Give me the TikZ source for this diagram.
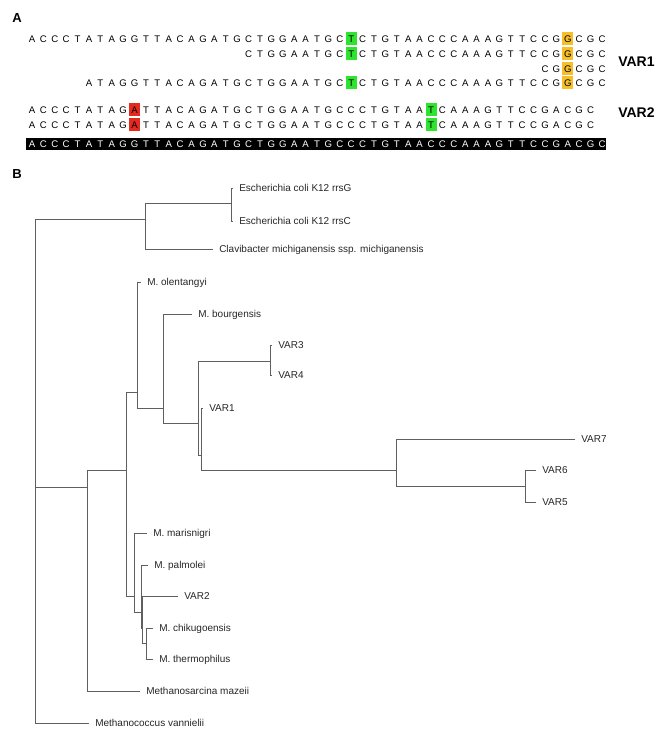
\documentclass[tikz,border=0pt]{standalone}
\usepackage{fontspec}
\setmainfont{Liberation Sans}
\usepackage{tikz}

\definecolor{hlgreen}{RGB}{46,228,46}
\definecolor{hlorange}{RGB}{246,190,40}
\definecolor{hlred}{RGB}{228,42,30}
\definecolor{treegray}{RGB}{95,95,95}

\begin{document}
\begin{tikzpicture}[x=0.75pt,y=-0.75pt,
	nuc/.style={inner sep=0pt,text height=5.1pt,text depth=0pt,font=\fontsize{7.2}{8}\selectfont},
	taxon/.style={anchor=west,inner xsep=4.5pt,inner ysep=0pt,text height=5.4pt,text depth=0pt,text=black!85,font=\fontsize{7.5}{9}\selectfont},
	branch/.style={draw=treegray,line width=0.6pt},
	varname/.style={anchor=west,inner sep=0pt,font=\bfseries\fontsize{10.5}{12}\selectfont},
	panel/.style={anchor=west,inner sep=0pt,font=\bfseries\fontsize{9.8}{12}\selectfont}]

	\useasboundingbox (0,0) rectangle (661,741);

	\node[panel] (pA) at (12,18) {A};
	\node[panel] (pB) at (12,174) {B};

	% highlighted bases
	\foreach \i/\y/\c in {28/39/hlgreen,28/54/hlgreen,28/83/hlgreen,47/39/hlorange,47/54/hlorange,47/69/hlorange,47/83/hlorange,9/110/hlred,9/125/hlred,35/110/hlgreen,35/125/hlgreen}
		\fill[\c] ({32+11.4*\i-5.5},{\y-6.5}) rectangle +(11,13);
	\fill[black] (26,138) rectangle (606,150);

	% VAR1 reads
	\foreach \n [count=\i from 0] in {A,C,C,C,T,A,T,A,G,G,T,T,A,C,A,G,A,T,G,C,T,G,G,A,A,T,G,C,T,C,T,G,T,A,A,C,C,C,A,A,A,G,T,T,C,C,G,G,C,G,C}
		\node[nuc] (s1-\i) at ({32+11.4*\i},39) {\n};
	\foreach \n [count=\i from 19] in {C,T,G,G,A,A,T,G,C,T,C,T,G,T,A,A,C,C,C,A,A,A,G,T,T,C,C,G,G,C,G,C}
		\node[nuc] (s2-\i) at ({32+11.4*\i},54) {\n};
	\foreach \n [count=\i from 45] in {C,G,G,C,G,C}
		\node[nuc] (s3-\i) at ({32+11.4*\i},69) {\n};
	\foreach \n [count=\i from 5] in {A,T,A,G,G,T,T,A,C,A,G,A,T,G,C,T,G,G,A,A,T,G,C,T,C,T,G,T,A,A,C,C,C,A,A,A,G,T,T,C,C,G,G,C,G,C}
		\node[nuc] (s4-\i) at ({32+11.4*\i},83) {\n};

	% VAR2 reads
	\foreach \y [count=\r from 5] in {110,125}
		\foreach \n [count=\i from 0] in {A,C,C,C,T,A,T,A,G,A,T,T,A,C,A,G,A,T,G,C,T,G,G,A,A,T,G,C,C,C,T,G,T,A,A,T,C,A,A,A,G,T,T,C,C,G,A,C,G,C}
			\node[nuc] (s\r-\i) at ({32+11.4*\i},\y) {\n};

	% reference
	\foreach \n [count=\i from 0] in {A,C,C,C,T,A,T,A,G,G,T,T,A,C,A,G,A,T,G,C,T,G,G,A,A,T,G,C,C,C,T,G,T,A,A,C,C,C,A,A,A,G,T,T,C,C,G,A,C,G,C}
		\node[nuc,text=white] (ref-\i) at ({32+11.4*\i},144) {\n};

	\node[varname] (v1) at (618,62) {VAR1};
	\node[varname] (v2) at (618,113) {VAR2};

	% tree
	\coordinate (root) at (35,487);
	\coordinate (u1) at (145,219);
	\coordinate (eco) at (231,203);
	\coordinate (m1) at (87,487);
	\coordinate (m2) at (126,470);
	\coordinate (m3) at (137,392);
	\coordinate (m5) at (163,408);
	\coordinate (m6) at (198,423);
	\coordinate (v34) at (270,361);
	\coordinate (m7) at (201,455);
	\coordinate (m8) at (396,470);
	\coordinate (v56) at (525,486);
	\coordinate (m4) at (134,596);
	\coordinate (m10) at (141,612);
	\coordinate (m11) at (142.5,628);
	\coordinate (m12) at (146,643);

	\node[taxon] (rrsG) at (233,188) {Escherichia coli K12 rrsG};
	\node[taxon] (rrsC) at (233,221) {Escherichia coli K12 rrsC};
	\node[taxon] (clav) at (213,249) {Clavibacter michiganensis ssp. michiganensis};
	\node[taxon] (olen) at (141,282) {M. olentangyi};
	\node[taxon] (bour) at (192,314) {M. bourgensis};
	\node[taxon] (var3) at (272,345) {VAR3};
	\node[taxon] (var4) at (272,375) {VAR4};
	\node[taxon] (var1) at (203,408) {VAR1};
	\node[taxon] (var7) at (575,439) {VAR7};
	\node[taxon] (var6) at (536,470) {VAR6};
	\node[taxon] (var5) at (536,502) {VAR5};
	\node[taxon] (mari) at (147,533) {M. marisnigri};
	\node[taxon] (palm) at (148,565) {M. palmolei};
	\node[taxon] (var2) at (178,596) {VAR2};
	\node[taxon] (chik) at (153,628) {M. chikugoensis};
	\node[taxon] (ther) at (153,659) {M. thermophilus};
	\node[taxon] (maze) at (140,691) {Methanosarcina mazeii};
	\node[taxon] (vann) at (89,723) {Methanococcus vannielii};

	\foreach \p/\c in {root/u1,root/m1,root/vann.west,u1/eco,u1/clav.west,eco/rrsG.west,eco/rrsC.west,
		m1/m2,m1/maze.west,m2/m3,m2/m4,m3/olen.west,m3/m5,m5/bour.west,m5/m6,m6/v34,m6/m7,
		v34/var3.west,v34/var4.west,m7/var1.west,m7/m8,m8/var7.west,m8/v56,v56/var6.west,v56/var5.west,
		m4/mari.west,m4/m10,m10/palm.west,m10/m11,m11/var2.west,m11/m12,m12/chik.west,m12/ther.west}
		\draw[branch] (\p) |- (\c);

\end{tikzpicture}
\end{document}
